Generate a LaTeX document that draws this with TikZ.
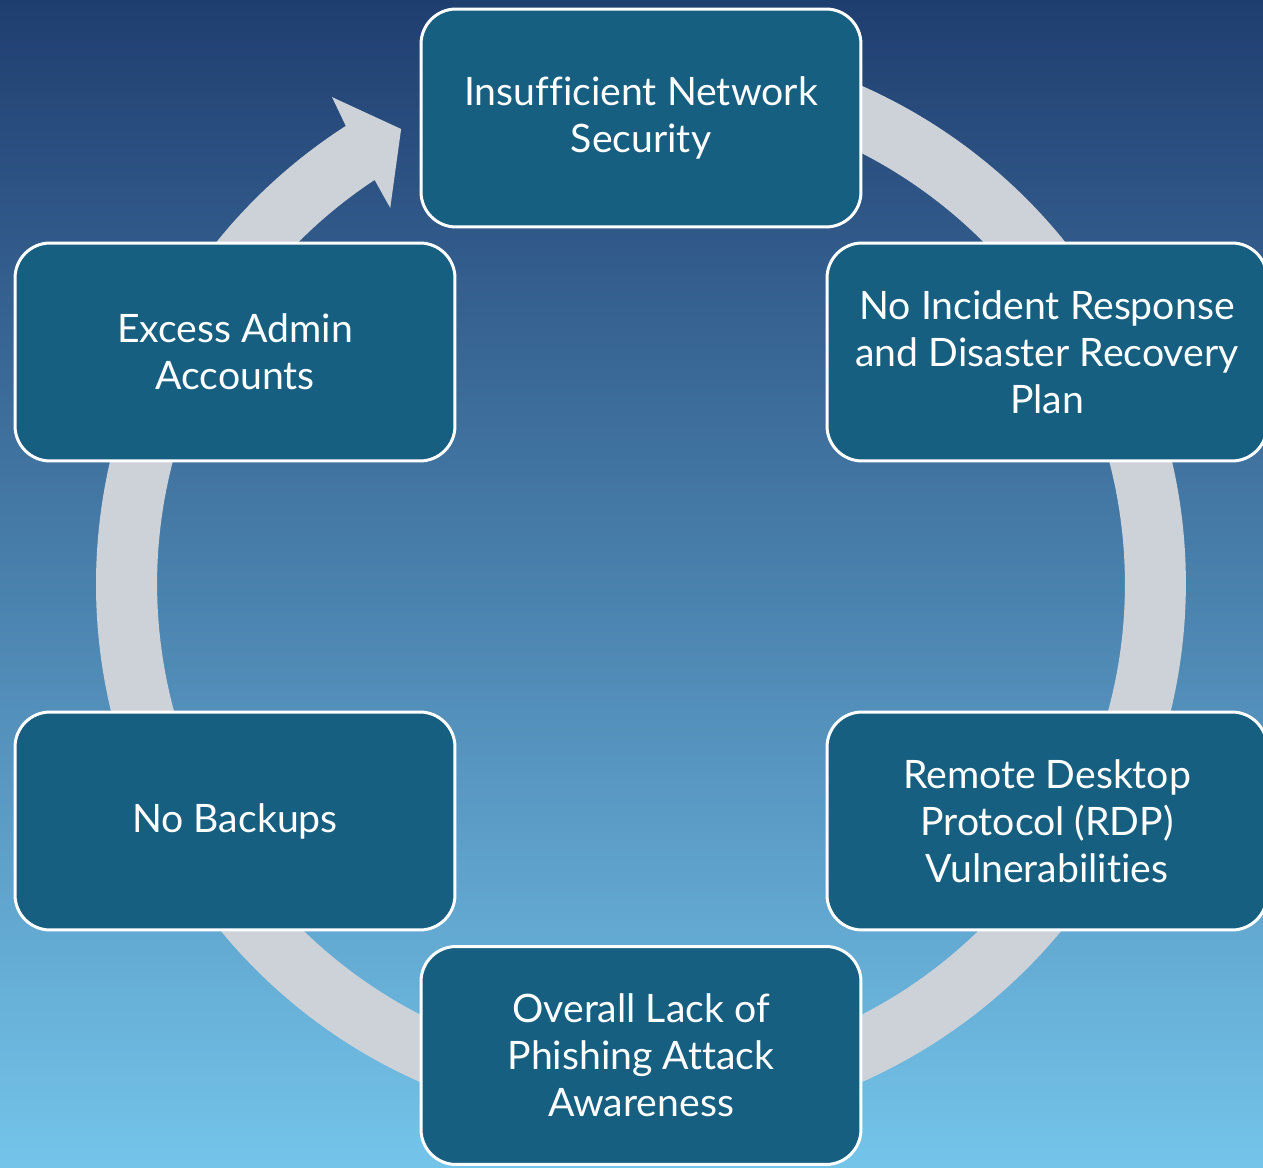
\documentclass[tikz,border=0pt]{standalone}
\usepackage{fontspec}
\setmainfont{Lato}[Ligatures=NoCommon]
\definecolor{bgtop}{HTML}{1F3E70}
\definecolor{bgmid}{HTML}{4C8AB7}
\definecolor{bgbot}{HTML}{74C4EA}
\definecolor{ringc}{HTML}{CDD2D9}
\definecolor{boxc}{HTML}{175F80}
\begin{document}
\begin{tikzpicture}[x=0.02cm,y=0.02cm,
  box/.style={draw=white, line width=0.06cm, fill=boxc, rounded corners=0.7cm,
    minimum width=8.8cm, minimum height=4.36cm, inner sep=0pt, text=white,
    align=center, font=\fontsize{22.3}{26.7}\selectfont}]
\useasboundingbox (0,0) rectangle (1263,1167);
\clip (0,0) rectangle (1263,1167);
\shade[top color=bgtop, middle color=bgmid, bottom color=bgbot] (0,0) rectangle (1263,1167);
\coordinate (c) at (641,583);
\fill[ringc] ([shift={(641,583)}]122.8:545) arc[start angle=122.8, end angle=455, radius=10.9cm]
  -- ([shift={(641,583)}]95:484) arc[start angle=455, end angle=123.4, radius=9.68cm]
  -- ([shift={(641,583)}]123.7:452) -- ([shift={(641,583)}]117.8:514.4)
  -- ([shift={(641,583)}]122.4:576.7) -- cycle;
\node[box] (top) at (641,1049) {Insufficient Network\\Security};
\node[box] (rt) at (1047,815) {No Incident Response\\and Disaster Recovery\\Plan};
\node[box] (rb) at (1047,346) {Remote Desktop\\Protocol (RDP)\\Vulnerabilities};
\node[box] (bot) at (641,111.5) {Overall Lack of\\Phishing Attack\\Awareness};
\node[box] (lb) at (235,346) {No Backups};
\node[box] (lt) at (235,815) {Excess Admin\\Accounts};
\end{tikzpicture}
\end{document}
